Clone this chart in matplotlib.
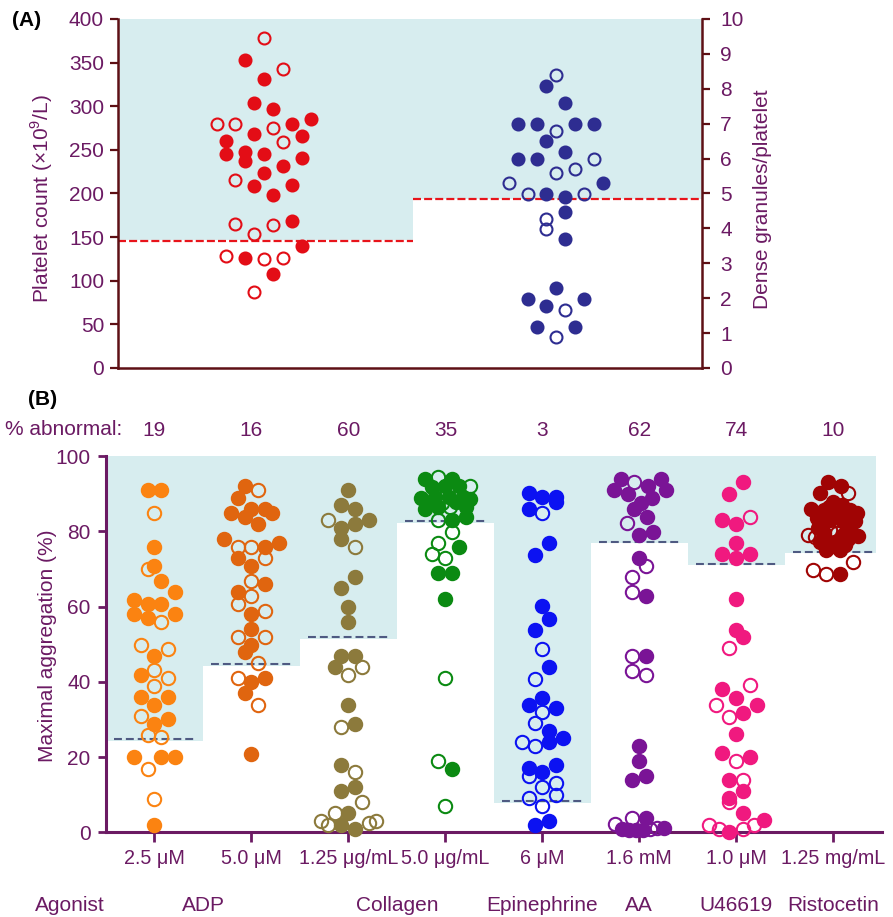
import matplotlib.pyplot as plt
from matplotlib.transforms import blended_transform_factory

plt.rcParams['font.family'] = ['Liberation Sans', 'DejaVu Sans']
plt.rcParams['mathtext.fontset'] = 'custom'
plt.rcParams['mathtext.rm'] = 'Liberation Sans'

# panel A points: (value, swarm column, filled)
platelet_count = [(377.8, 0, 0), (352.7, -2, 1), (342.7, 2, 0), (331.3, 0, 1), (303.4, -1, 1),
                  (297.0, 1, 1), (279.4, -5, 0), (279.4, -3, 0), (279.8, 3, 1), (285.5, 5, 1),
                  (268.7, -1, 1), (274.8, 1, 0), (266.0, 4, 1), (260.0, -4, 1), (258.8, 2, 0),
                  (245.0, -4, 1), (247.0, -2, 1), (237.8, -2, 1), (245.4, 0, 1), (231.0, 2, 1),
                  (240.8, 4, 1), (215.6, -3, 0), (223.7, 0, 1), (208.8, -1, 1), (209.5, 3, 1),
                  (198.5, 1, 1), (165.3, -3, 0), (163.7, 1, 0), (153.4, -1, 0), (168.7, 3, 1),
                  (140.0, 4, 1), (128.2, -4, 0), (126.0, -2, 1), (124.8, 0, 0), (126.3, 2, 0),
                  (107.3, 1, 1), (86.6, -1, 0)]
dense_granules = [(8.39, 0, 0), (8.08, -1, 1), (7.59, 1, 1), (6.98, -4, 1), (6.98, -2, 1),
                  (6.98, 2, 1), (6.98, 4, 1), (6.79, 0, 0), (6.50, -1, 1), (6.18, 1, 1),
                  (5.99, -4, 1), (5.99, -2, 1), (5.99, 4, 0), (5.59, 0, 0), (5.69, 2, 0),
                  (5.29, -5, 0), (5.29, 5, 1), (4.99, -3, 0), (4.99, -1, 1), (4.90, 1, 1),
                  (4.99, 3, 0), (4.48, 1, 1), (4.28, -1, 0), (3.98, -1, 0), (3.69, 1, 1),
                  (2.28, 0, 1), (1.98, -3, 1), (1.98, 3, 1), (1.78, -1, 1), (1.67, 1, 0),
                  (1.17, -2, 1), (1.17, 2, 1), (0.88, 0, 0)]
platelet_cutoff = 146
granule_cutoff = 4.85

# panel B points: (aggregation %, swarm column, filled)
adp_25 = [(90.9, -1, 1), (90.9, 1, 1), (84.8, 0, 0), (75.9, 0, 1), (70.0, -1, 0), (70.8, 0, 1),
          (66.9, 1, 1), (63.9, 3, 1), (61.8, -3, 1), (60.8, -1, 1), (60.8, 1, 1), (58.0, -3, 1),
          (57.0, -1, 1), (55.8, 1, 0), (58.0, 3, 1), (49.9, -2, 0), (48.8, 2, 0), (46.9, 0, 1),
          (41.9, -2, 1), (43.0, 0, 0), (40.9, 2, 0), (38.9, 0, 0), (35.9, -2, 1), (35.9, 2, 1),
          (33.9, 0, 1), (31.0, -2, 0), (30.0, 2, 1), (28.9, 0, 1), (25.9, -1, 0), (25.2, 1, 0),
          (19.9, -3, 1), (19.9, 1, 1), (19.9, 3, 1), (16.9, -1, 0), (8.9, 0, 0), (2.0, 0, 1)]
adp_50 = [(91.9, -1, 1), (90.9, 1, 0), (88.9, -2, 1), (84.9, -3, 1), (83.9, -1, 1), (86.0, 0, 1),
          (85.8, 2, 1), (84.9, 3, 1), (81.9, 1, 1), (77.9, -4, 1), (75.9, -2, 0), (75.9, 0, 0),
          (75.9, 2, 1), (76.9, 4, 1), (72.9, -2, 1), (72.9, 2, 0), (70.8, 0, 1), (66.9, 0, 0),
          (65.9, 2, 1), (63.9, -2, 1), (62.9, 0, 0), (60.8, -2, 0), (58.8, 2, 0), (58.0, 0, 1),
          (53.9, 0, 1), (51.8, -2, 0), (51.8, 2, 0), (49.9, 0, 1), (47.9, -1, 1), (44.9, 1, 0),
          (40.9, -2, 0), (39.9, 0, 1), (40.9, 2, 1), (36.9, -1, 1), (33.9, 1, 0), (20.9, 0, 1)]
collagen_125 = [(90.9, 0, 1), (86.9, -1, 1), (85.8, 1, 1), (82.9, -3, 0), (80.9, -1, 1), (81.9, 1, 1),
                (82.9, 3, 1), (77.9, -1, 1), (75.9, 1, 0), (67.9, 1, 1), (64.9, -1, 1), (60.0, 0, 1),
                (55.9, 0, 1), (46.9, -1, 1), (46.9, 1, 1), (43.9, -2, 1), (43.9, 2, 0), (41.9, 0, 0),
                (33.9, 0, 1), (28.0, -1, 0), (28.9, 1, 1), (17.9, -1, 1), (15.9, 1, 0), (11.0, -1, 1),
                (11.9, 1, 1), (8.1, 2, 0), (5.2, -2, 0), (5.0, 0, 1), (3.1, -4, 0), (1.9, -3, 0),
                (1.9, -1, 1), (1.0, 1, 1), (2.4, 3, 0), (3.1, 4, 0)]
collagen_50 = [(93.8, -3, 1), (94.3, -1, 0), (93.8, 1, 1), (92.0, 3.5, 0), (91.8, -2, 1), (92.0, 0, 1),
               (92.0, 2, 1), (88.8, -3.5, 1), (89.2, -1.5, 1), (89.2, 0.5, 1), (89.2, 2.5, 1),
               (88.5, 3.5, 1), (87.4, -2.5, 1), (87.4, -0.5, 0), (87.9, 1.5, 1), (85.8, -3, 1),
               (86.5, -1, 1), (86.5, 0.7, 0), (86.5, 3, 1), (82.9, -1, 0), (82.9, 1, 1), (83.9, 3, 1),
               (79.9, 1, 0), (76.9, -1, 0), (75.9, 2, 1), (73.9, -2, 0), (72.9, 0, 0), (68.9, -1, 1),
               (68.9, 1, 1), (61.9, 0, 1), (40.9, 0, 0), (18.9, -1, 0), (16.9, 1, 1), (7.0, 0, 0)]
epinephrine_6 = [(90.1, -2, 1), (89.2, 0, 1), (89.2, 2, 1), (87.7, 2, 1), (85.8, -2, 1), (84.8, 0, 0),
                 (76.8, 1, 1), (73.8, -1, 1), (60.2, 0, 1), (56.8, 1, 1), (53.7, -1, 1), (48.7, 0, 0),
                 (43.8, 1, 1), (40.8, -1, 0), (35.8, 0, 1), (33.9, -2, 1), (32.9, 2, 1), (31.9, 0, 0),
                 (29.0, -1, 0), (26.9, 1, 1), (23.9, -3, 0), (23.0, -1, 0), (23.9, 1, 1), (25.0, 3, 1),
                 (17.0, -2, 1), (17.9, 2, 1), (15.9, 0, 1), (15.0, -2, 0), (13.0, 2, 0), (11.9, 0, 0),
                 (10.0, 2, 0), (9.0, -2, 0), (7.0, 0, 0), (2.0, -1, 1), (3.1, 1, 1)]
aa_16 = [(93.8, -2.7, 1), (93.0, -0.7, 0), (92.0, 1.2, 1), (93.8, 3.1, 1), (90.9, -3.6, 1),
         (89.9, -1.7, 1), (88.9, 1.9, 1), (90.9, 3.9, 1), (87.6, 0.2, 1), (85.8, -0.7, 1),
         (83.9, 1.1, 1), (82.1, -1.8, 0), (79.0, 0, 1), (79.9, 2, 1), (73.0, 0, 1), (70.8, 1, 0),
         (67.9, -1, 0), (63.9, -1, 0), (62.9, 1, 1), (46.9, -1, 0), (46.9, 1, 1), (42.9, -1, 0),
         (41.9, 1, 0), (23.0, 0, 1), (18.9, 0, 1), (13.9, -1, 1), (15.0, 1, 1), (3.9, -1, 0),
         (3.9, 1, 1), (2.2, -3.5, 0), (1.0, -2.5, 1), (0.5, -1.5, 1), (0.5, -0.5, 1), (0.5, 0.5, 1),
         (1.0, 1.5, 0), (1.2, 2.5, 0), (1.2, 3.5, 1)]
u46619_10 = [(93.0, 1, 1), (89.8, -1, 1), (83.0, -2, 1), (81.9, 0, 1), (83.9, 2, 0), (76.8, 0, 1),
             (73.9, -2, 1), (73.0, 0, 1), (73.9, 2, 1), (61.9, 0, 1), (53.8, 0, 1), (51.8, 1, 1),
             (48.9, -1, 0), (38.0, -2, 1), (39.1, 2, 0), (35.8, 0, 1), (33.8, -3, 0), (33.8, 3, 1),
             (31.8, 1, 1), (30.7, -1, 0), (26.0, 0, 1), (21.0, -2, 1), (20.0, 2, 1), (18.9, 0, 0),
             (13.9, -1, 1), (13.9, 1, 0), (11.0, 1, 1), (9.0, -1, 1), (8.0, -1, 0), (5.2, 1, 1),
             (3.3, 4, 1), (1.9, -4, 0), (1.0, -2.5, 0), (0.2, -1, 1), (1.0, 1, 0), (1.9, 2.5, 0)]
ristocetin_125 = [(93.0, -0.7, 1), (92.0, 1.1, 1), (90.1, -1.9, 1), (90.1, 2.2, 0), (87.9, 0, 1),
                  (87.0, 1.2, 1), (85.8, -3.2, 1), (85.6, -1.4, 1), (84.8, 0.5, 1), (85.6, 2.4, 1),
                  (84.9, 3.4, 1), (83.4, -2.4, 1), (83.0, -0.5, 1), (82.6, 1.4, 1), (82.6, 3.1, 1),
                  (81.0, -2.2, 1), (81.2, 2.0, 1), (86.5, -0.6, 1), (79.0, -3.6, 0), (78.4, -2.7, 0),
                  (79.5, -1.4, 1), (80.3, -0.5, 0), (79.5, 0.5, 0), (79.0, 1.4, 1), (79.5, 2.7, 1),
                  (78.8, 3.6, 1), (78.0, 2.2, 1), (77.2, -1.9, 1), (76.8, -0.7, 1), (77.2, 0.2, 1),
                  (76.3, 1.7, 1), (76.0, 0, 1), (75.0, -1, 1), (75.0, 1, 1), (69.7, -2.9, 0),
                  (68.6, -1, 0), (68.6, 1, 1), (71.9, 2.9, 0)]

agonist_doses = ['2.5 μM', '5.0 μM', '1.25 μg/mL', '5.0 μg/mL', '6 μM', '1.6 mM', '1.0 μM', '1.25 mg/mL']
agonist_names = ['ADP', 'Collagen', 'Epinephrine', 'AA', 'U46619', 'Ristocetin']
agonist_groups = [[1, 2], [3, 4], [5], [6], [7], [8]]
pct_abnormal = [19, 16, 60, 35, 3, 62, 74, 10]
agg_cutoffs = [24.7, 44.7, 51.8, 82.6, 8.2, 77.2, 71.4, 74.5]
agg_series = [adp_25, adp_50, collagen_125, collagen_50, epinephrine_6, aa_16, u46619_10, ristocetin_125]
agg_colors = ['#fb8311', '#e0650f', '#8c7a3c', '#0b8a12', '#0c12f2', '#7a1496', '#f0197f', '#a00404']

SHADE = '#d7edef'
PURPLE = '#6b1a63'
MAROON = '#5e1015'
FS = 15


def swarm(ax, pts, x0, step, color, ms):
    for v, col, filled in pts:
        ax.plot(x0 + col * step, v, 'o', ms=ms, mec=color, mfc=color if filled else 'none',
                mew=1.5, clip_on=False, zorder=3)


fig = plt.figure(figsize=(8.93, 9.17), dpi=100)

# ---------------- panel A ----------------
ax_a = fig.add_axes([0.1321, 0.5987, 0.654, 0.3806])
ax_g = ax_a.twinx()
ax_a.set_xlim(0.5, 2.5)
ax_a.set_ylim(0, 400)
ax_g.set_ylim(0, 10)
split = 1.51
ax_a.fill_between([0.5, split], platelet_cutoff + 1, 400, color=SHADE, lw=0, zorder=0)
ax_a.fill_between([split, 2.5], granule_cutoff * 40, 400, color=SHADE, lw=0, zorder=0)
ax_a.plot([0.5, split], [platelet_cutoff] * 2, color='#e8141b', lw=1.6, dashes=(3.6, 1.4), zorder=2)
ax_g.plot([split, 2.5], [granule_cutoff] * 2, color='#e8141b', lw=1.6, dashes=(3.6, 1.4), zorder=2)
swarm(ax_a, platelet_count, 1, 0.0325, '#e30d16', 8.6)
swarm(ax_g, dense_granules, 2, 0.0325, '#2e2d91', 8.6)

ax_a.spines['top'].set_visible(False)
ax_a.spines['right'].set_visible(False)
for s in ['top', 'left', 'bottom']:
    ax_g.spines[s].set_visible(False)
for s in ['left', 'bottom']:
    ax_a.spines[s].set_color(MAROON)
    ax_a.spines[s].set_linewidth(1.8)
ax_g.spines['right'].set_color(MAROON)
ax_g.spines['right'].set_linewidth(1.8)
ax_a.set_xticks([])
ax_a.set_yticks(range(0, 401, 50))
ax_g.set_yticks(range(0, 11))
ax_a.tick_params(axis='y', length=6, width=1.6, color=MAROON, labelcolor=PURPLE, labelsize=FS, pad=4)
ax_g.tick_params(axis='y', length=6, width=1.6, color=MAROON, labelcolor=PURPLE, labelsize=FS, pad=7)
ax_a.set_ylabel('Platelet count (×10$^{9}$/L)', color=PURPLE, fontsize=FS)
ax_a.yaxis.set_label_coords(-0.108, 0.484)
ax_g.set_ylabel('Dense granules/platelet', color=PURPLE, fontsize=FS)
ax_g.yaxis.set_label_coords(1.087, 0.484)
fig.text(0.013, 0.978, '(A)', fontsize=FS, fontweight='bold', va='center')

# ---------------- panel B ----------------
ax_b = fig.add_axes([0.1187, 0.0924, 0.8687, 0.4103])
ax_b.set_xlim(0.5, 8.5)
ax_b.set_ylim(0, 100)
for i, (pts, thr, col) in enumerate(zip(agg_series, agg_cutoffs, agg_colors)):
    c = i + 1
    ax_b.fill_between([max(c - 0.5, 0.52), min(c + 0.5, 8.44)], thr - 0.4, 100,
                      color=SHADE, lw=0, zorder=0)
    ax_b.plot([c - 0.42, c + 0.42], [thr, thr], color='#4f5a82', lw=1.5, dashes=(3.8, 1.9), zorder=2)
    swarm(ax_b, pts, c, 0.0714, col, 9.6)

for s in ['top', 'right']:
    ax_b.spines[s].set_visible(False)
for s in ['left', 'bottom']:
    ax_b.spines[s].set_color(PURPLE)
    ax_b.spines[s].set_linewidth(2.2)
ax_b.set_xticks(range(1, 9))
ax_b.set_xticklabels(agonist_doses)
ax_b.set_yticks(range(0, 101, 20))
ax_b.tick_params(axis='x', length=7, width=2, color=PURPLE, labelcolor=PURPLE, labelsize=14.2, pad=5)
ax_b.tick_params(axis='y', length=6, width=2, color=PURPLE, labelcolor=PURPLE, labelsize=FS, pad=5)
ax_b.set_ylabel('Maximal aggregation (%)', color=PURPLE, fontsize=FS)
ax_b.yaxis.set_label_coords(-0.063, 0.496)

trans = blended_transform_factory(ax_b.transData, ax_b.transAxes)
for i, p in enumerate(pct_abnormal):
    ax_b.text(i + 1, 1.069, str(p), transform=trans, ha='center', va='center', color=PURPLE, fontsize=FS)
fig.text(0.0056, 1 - 430 / 917, '% abnormal:', ha='left', va='center', color=PURPLE, fontsize=FS)

ax_b.text(0.13, -0.194, 'Agonist', transform=trans, ha='center', va='center', color=PURPLE, fontsize=FS)
for name, grp in zip(agonist_names, agonist_groups):
    ax_b.text(sum(grp) / len(grp), -0.194, name, transform=trans, ha='center', va='center',
              color=PURPLE, fontsize=FS)
fig.text(0.031, 1 - 400 / 917, '(B)', fontsize=FS, fontweight='bold', va='center')

fig.savefig('out.png', dpi=100)
